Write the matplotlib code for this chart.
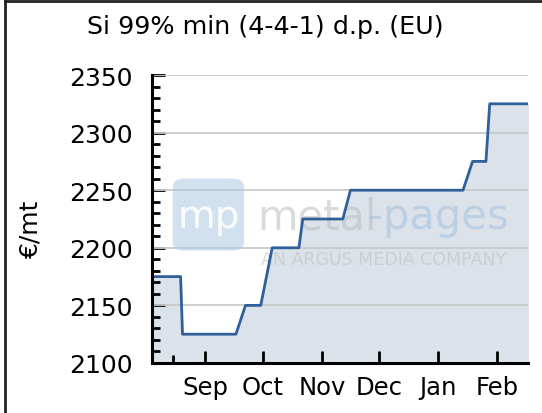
import numpy as np
import pandas as pd
import matplotlib
matplotlib.use("Agg")
import matplotlib.pyplot as plt
from matplotlib.patches import FancyBboxPatch
from matplotlib.lines import Line2D

# price series (weekly assessments)
dates = ["2016-08-04", "2016-08-19", "2016-08-20", "2016-09-17", "2016-09-22",
         "2016-09-30", "2016-10-06", "2016-10-20", "2016-10-22", "2016-11-12",
         "2016-11-16", "2017-01-14", "2017-01-19", "2017-01-26", "2017-01-28",
         "2017-02-17"]
prices = [2175, 2175, 2125, 2125, 2150, 2150, 2200, 2200, 2225, 2225,
          2250, 2250, 2275, 2275, 2325, 2325]

month_ticks = ["2016-09-01", "2016-10-01", "2016-11-01", "2016-12-01",
               "2017-01-01", "2017-02-01"]
month_labels = ["Sep", "Oct", "Nov", "Dec", "Jan", "Feb"]
y_ticks = [2100, 2150, 2200, 2250, 2300, 2350]

x = pd.to_datetime(dates)

fig = plt.figure(figsize=(5.42, 4.14), dpi=100)
ax = fig.add_axes([0.2804, 0.1208, 0.6936, 0.6956])

line_col = "#30609a"
fill_col = "#dbe2ea"

ax.fill_between(x, prices, 2100, color=fill_col, zorder=1)
for yv in y_ticks[1:]:
    ax.axhline(yv, color="#c9c9c9", lw=1.3, zorder=2)
ax.plot(x, prices, color=line_col, lw=2.0, zorder=4)

ax.set_xlim(x[0], x[-1])
ax.set_ylim(2100, 2350)

ax.set_xticks(pd.to_datetime(month_ticks))
ax.set_xticklabels(month_labels)
ax.set_xticks(pd.to_datetime(["2016-08-15"]), minor=True)
ax.set_yticks(y_ticks)
ax.set_yticks(np.arange(2100, 2351, 10), minor=True)

ax.tick_params(axis="both", which="major", direction="in", length=9, width=2,
               color="black", labelsize=18)
ax.tick_params(axis="both", which="minor", direction="in", length=6, width=2,
               color="black")
ax.tick_params(axis="y", pad=14)
ax.tick_params(axis="x", pad=9, labelsize=17.5)

for s in ["top", "right"]:
    ax.spines[s].set_visible(False)
for s in ["left", "bottom"]:
    ax.spines[s].set_linewidth(2.2)
    ax.spines[s].set_zorder(5)

ax.set_ylabel("€/mt", fontsize=18)
ax.yaxis.set_label_coords(-0.29, 0.47)

fig.text(0.49, 0.935, "Si 99% min (4-4-1) d.p. (EU)", fontsize=18.3,
         ha="center", va="center")

# faint watermark
box = FancyBboxPatch((0.06, 0.395), 0.18, 0.24, boxstyle="round,pad=0.005,rounding_size=0.03",
                     transform=ax.transAxes, facecolor="#b3cde6", edgecolor="none",
                     alpha=0.6, zorder=3)
ax.add_patch(box)
ax.text(0.15, 0.51, "mp", transform=ax.transAxes, fontsize=28, color="white",
        ha="center", va="center", alpha=0.9, zorder=3)
ax.text(0.28, 0.51, "metal", transform=ax.transAxes, fontsize=30, color="#bdbdbd",
        ha="left", va="center", alpha=0.55, zorder=3)
ax.text(0.575, 0.51, "-pages", transform=ax.transAxes, fontsize=30, color="#a5c2de",
        ha="left", va="center", alpha=0.55, zorder=3)
ax.text(0.615, 0.36, "AN ARGUS MEDIA COMPANY", transform=ax.transAxes, fontsize=12.5,
        color="#c0c0c0", ha="center", va="center", alpha=0.55, zorder=3)

# image border (left and top)
fig.add_artist(Line2D([0.009, 0.009], [0, 0.995], transform=fig.transFigure,
                      color="#222222", lw=2))
fig.add_artist(Line2D([0.009, 1], [0.995, 0.995], transform=fig.transFigure,
                      color="#222222", lw=2))

fig.savefig("out.png", dpi=100)
